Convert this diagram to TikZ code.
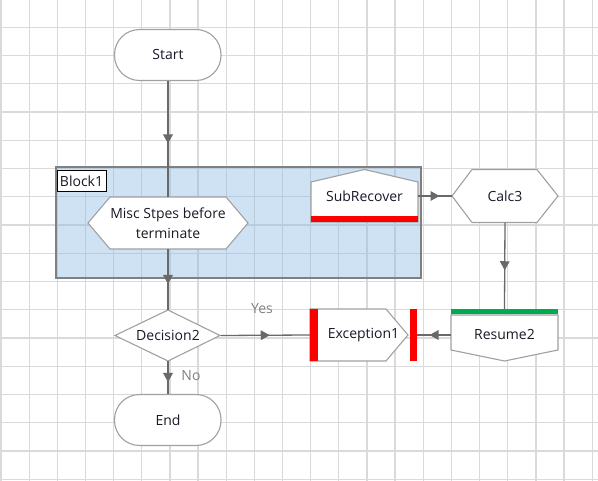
\documentclass[tikz,border=0pt]{standalone}
\usepackage{fontspec}
\setmainfont{Open Sans}
\usepackage{tikz}
\usetikzlibrary{decorations.markings,calc}

\definecolor{gridgray}{RGB}{218,218,218}
\definecolor{edgegray}{RGB}{160,160,160}
\definecolor{linegray}{RGB}{105,105,105}
\definecolor{blockblue}{RGB}{141,186,226}
\definecolor{barred}{RGB}{250,0,0}
\definecolor{bargreen}{RGB}{0,170,80}
\definecolor{txt}{RGB}{25,25,40}

\begin{document}
\begin{tikzpicture}[x=1pt, y=-1pt,
    font=\fontsize{14}{20}\selectfont, text=txt,
    box/.style={inner sep=0pt, align=center, minimum width=107pt, minimum height=52pt},
    outline/.style={draw=edgegray, line width=1.1pt, fill=white},
    flow/.style={color=linegray, line width=1.3pt, postaction={decorate},
      decoration={markings, mark=at position 0.5 with {\fill (4.5pt,0) -- (-4.5pt,5pt) -- (-4.5pt,-5pt) -- cycle;}}},
    lbl/.style={text=gray, inner sep=0pt}]
    \useasboundingbox (0,0) rectangle (598,481);

    % Grid
    \foreach \i in {0,...,21}
        \draw[gridgray, line width=1.3pt] ({1+28.15*\i},0) -- ({1+28.15*\i},481);
    \foreach \j in {1,...,17}
        \draw[gridgray, line width=1.3pt] (0,{-1+28.25*\j}) -- (598,{-1+28.25*\j});

    % Block
    \fill[blockblue, fill opacity=0.42] (56,167) rectangle (421,278);
    \draw[gray, line width=1.3pt] (56,167) rectangle (421,278);
    \node[draw=black, fill=white, line width=1pt, inner sep=0pt, minimum width=49pt, minimum height=21pt, anchor=north west] (blocklbl) at (56.5,170) {Block1};

    % Terminals
    \draw[outline, rounded corners=25pt] (114.5,29.5) rectangle (221,80.5);
    \node[box] (start) at (168,55) {Start};
    \draw[outline, rounded corners=25pt] (114.5,394.5) rectangle (221,445.5);
    \node[box] (stop) at (168,420) {End};

    % Misc step
    \draw[outline] (88,223) -- (110,197) -- (226,197) -- (248,223) -- (226,249) -- (110,249) -- cycle;
    \node[box, minimum width=160pt] (misc) at (168,223) {Misc Stpes before\\terminate};

    % SubRecover
    \draw[outline] (311,222) -- (311,182) -- (364.5,169.5) -- (418,182) -- (418,222) -- cycle;
    \fill[barred] (311,216) rectangle (418,222);
    \node[box] (sub) at (364.5,196) {SubRecover};

    % Calc3
    \draw[outline] (452,196) -- (472,169.5) -- (537,169.5) -- (558,196) -- (537,222.5) -- (472,222.5) -- cycle;
    \node[box, minimum width=106pt, minimum height=53pt] (calc) at (505,196) {Calc3};

    % Resume2
    \draw[outline] (451,315) -- (558,315) -- (558,350) -- (504.5,361) -- (451,350) -- cycle;
    \fill[bargreen] (451,309) rectangle (558,314.5);
    \node[box] (resume) at (504.5,335) {Resume2};

    % Exception1
    \draw[outline] (310,309) -- (386,309) -- (408,335) -- (386,361) -- (310,361) -- cycle;
    \fill[barred] (310,309) rectangle (318,361);
    \fill[barred] (410,309) rectangle (417,361);
    \node[box] (exc) at (363.5,335) {Exception1};

    % Decision2
    \draw[outline] (115,335.5) -- (168,310) -- (220,335.5) -- (168,361) -- cycle;
    \node[box, minimum width=105pt, minimum height=51pt] (dec) at (168,335.5) {Decision2};

    % Connectors
    \draw[flow] (start.south) -- (misc.north);
    \draw[flow] (misc.south) -- (dec.north);
    \draw[flow] (dec.east) -- (exc.west);
    \draw[flow] (dec.south) -- (stop.north);
    \draw[flow] (sub.east) -- (calc.west);
    \draw[flow] (calc.south) -- (resume.north);
    \draw[flow] (resume.west) -- (exc.east);

    % Labels
    \node[lbl] (yes) at (262,309) {Yes};
    \node[lbl] (no) at (191,376) {No};
\end{tikzpicture}
\end{document}
